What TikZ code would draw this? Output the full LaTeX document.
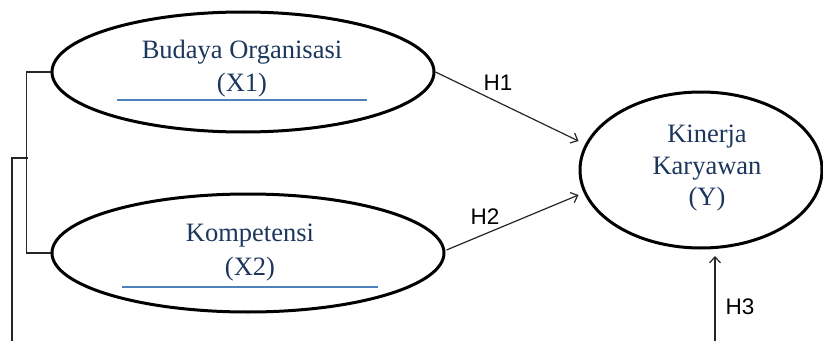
\documentclass[tikz,border=0pt]{standalone}
\usepackage{fontspec}
\setmainfont{Liberation Serif}
\newfontfamily\labfont{Liberation Sans}
\usetikzlibrary{shapes.geometric,arrows.meta,calc}
\definecolor{navy}{HTML}{1C365C}
\definecolor{accent}{HTML}{4F81BD}
\definecolor{conn}{HTML}{262626}
\begin{document}
\begin{tikzpicture}[x=1pt,y=1pt,
  var/.style={draw=black,line width=3pt,ellipse,inner sep=0pt},
  vartext/.style={text=navy,align=center,font=\fontsize{26.5}{33}\selectfont,inner sep=0pt},
  uline/.style={draw=accent,line width=1.2pt},
  conn/.style={draw=conn,line width=1.2pt},
  arr/.style={conn,-{Straight Barb[length=6pt,width=11pt]}},
  hlab/.style={font=\labfont\fontsize{22.5}{24}\selectfont,text=black,inner sep=0pt}
]
\useasboundingbox (0,0) rectangle (823,341);
% ellipses
\node[var,minimum width=382pt,minimum height=120pt] (X1) at (243,269) {};
\node[var,minimum width=392pt,minimum height=118pt] (X2) at (248,88) {};
\node[var,minimum width=242pt,minimum height=156pt] (Y) at (701,171) {};
% texts
\node[vartext] (t1) at (242,272.5) {Budaya Organisasi\\(X1)};
\node[vartext,font=\fontsize{26.5}{34}\selectfont] (t2) at (250,88.5) {Kompetensi\\(X2)};
\node[vartext,font=\fontsize{26.5}{31.5}\selectfont] (t3) at (707,172.5) {Kinerja\\Karyawan\\(Y)};
% underlines
\coordinate (u1a) at (117,241); \coordinate (u1b) at (367,241);
\coordinate (u2a) at (122,54); \coordinate (u2b) at (378,54);
\draw[uline] (u1a) -- (u1b);
\draw[uline] (u2a) -- (u2b);
% bracket lines
\draw[conn] (X1.west) -- ++(-24,0) |- (X2.west);
\coordinate (b1) at (28,183);
\coordinate (b0) at (12,0);
\draw[conn] (b0) |- (b1);
% arrows
\coordinate (h1e) at ($(Y.west)+(0,29)$);
\coordinate (h2e) at ($(Y.west)+(0,-25)$);
\coordinate (h3s) at (715,0);
\coordinate (h3e) at (715,85);
\draw[arr] (X1.east) -- (h1e);
\draw[arr] ($(X2.east)+(1,3)$) -- (h2e);
\draw[arr] (h3s) -- (h3e);
% labels
\node[hlab] (H1) at (498,258) {H1};
\node[hlab] (H2) at (485,124) {H2};
\node[hlab] (H3) at (740,34) {H3};
\end{tikzpicture}
\end{document}
